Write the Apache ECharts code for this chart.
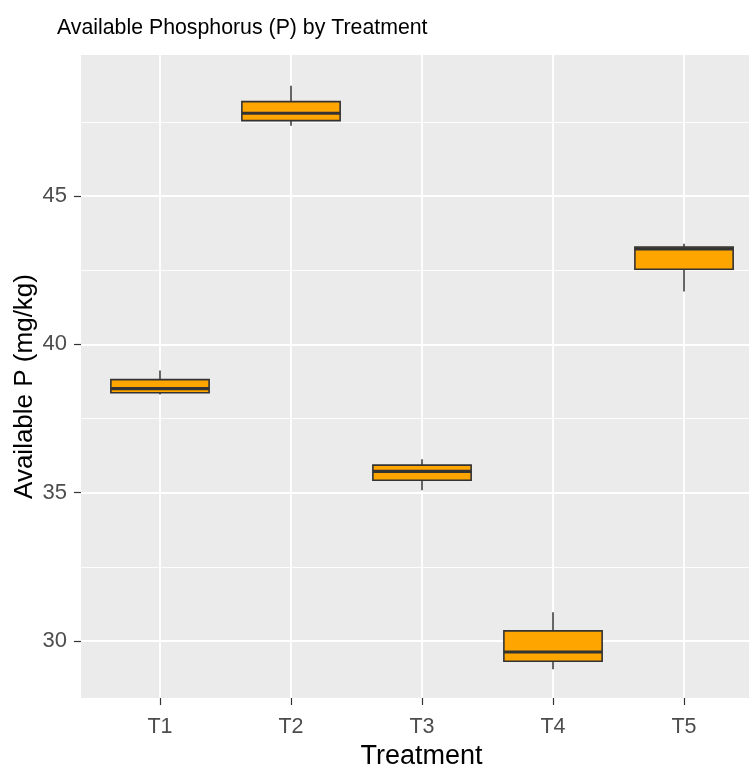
<!DOCTYPE html>
<html>
<head>
<meta charset="utf-8">
<script src="https://cdn.jsdelivr.net/npm/echarts@6/dist/echarts.min.js"></script>
<style>
html,body{margin:0;padding:0;background:#fff;}
#chart{width:749px;height:765px;}
</style>
</head>
<body>
<div id="chart"></div>
<script>
// ---- data ----
const categories = ['T1', 'T2', 'T3', 'T4', 'T5'];
const whiskerLow  = [38.31, 47.37, 35.08, 29.05, 41.78];
const q1          = [38.37, 47.54, 35.42, 29.32, 42.53];
const median      = [38.51, 47.79, 35.72, 29.63, 43.22];
const q3          = [38.81, 48.18, 35.93, 30.34, 43.28];
const whiskerHigh = [39.12, 48.72, 36.13, 30.97, 43.39];
const yMajorTicks = [30, 35, 40, 45];
const yMinorTicks = [32.5, 37.5, 42.5, 47.5];

const FONT = "'Liberation Sans', Arial, sans-serif";
const xPositions = categories.map((c, i) => i + 1);
const boxData = categories.map((c, i) => [xPositions[i], whiskerLow[i], q1[i], median[i], q3[i], whiskerHigh[i]]);

const chart = echarts.init(document.getElementById('chart'), null, {renderer: 'canvas'});

const option = {
  backgroundColor: '#ffffff',
  animation: false,
  title: {
    text: 'Available Phosphorus (P) by Treatment',
    left: 52,
    top: 13,
    textStyle: {fontFamily: FONT, fontSize: 21.3, fontWeight: 'normal', color: '#000000'}
  },
  grid: {
    left: 81, top: 55, right: 0, height: 643,
    outerBoundsMode: 'none',
    containLabel: false,
    show: true, backgroundColor: '#EBEBEB', borderWidth: 0
  },
  xAxis: {
    type: 'value',
    min: 0.397, max: 5.496,
    name: 'Treatment',
    nameLocation: 'middle',
    nameGap: 45,
    nameMoveOverlap: false,
    nameTextStyle: {fontFamily: FONT, fontSize: 27, color: '#000000', padding: [0, 0, 0, 13]},
    axisLine: {show: false},
    axisTick: {show: true, length: 7, lineStyle: {color: '#333333', width: 1.2}, customValues: xPositions},
    axisLabel: {
      customValues: xPositions,
      fontFamily: FONT, fontSize: 21.5, color: '#4D4D4D', margin: 18,
      formatter: v => categories[Math.round(v) - 1] || ''
    },
    splitLine: {show: true, lineStyle: {color: '#ffffff', width: 1.8}}
  },
  yAxis: [{
    type: 'value',
    min: 28.079, max: 49.753,
    name: 'Available P (mg/kg)',
    nameLocation: 'middle',
    nameGap: 43,
    nameMoveOverlap: false,
    nameTextStyle: {fontFamily: FONT, fontSize: 26, color: '#000000', padding: [0, 20, 0, 0]},
    axisLine: {show: false},
    axisTick: {show: true, length: 7, lineStyle: {color: '#333333', width: 1.2}, customValues: yMajorTicks},
    axisLabel: {customValues: yMajorTicks, fontFamily: FONT, fontSize: 22, color: '#4D4D4D', margin: 14},
    splitLine: {show: true, lineStyle: {color: '#ffffff', width: 1.8}}
  }, {
    type: 'value',
    min: 28.079, max: 49.753,
    position: 'left',
    axisLine: {show: false},
    axisTick: {show: false, customValues: yMinorTicks},
    axisLabel: {show: false, customValues: yMinorTicks},
    splitLine: {show: true, lineStyle: {color: '#ffffff', width: 0.9}}
  }],
  series: [{
    type: 'custom',
    xAxisIndex: 0,
    yAxisIndex: 0,
    data: boxData,
    dimensions: ['x', 'low', 'q1', 'median', 'q3', 'high'],
    encode: {x: 0, y: [1, 2, 3, 4, 5]},
    z: 10,
    renderItem: function (params, api) {
      const x = api.value(0);
      const pLo = api.coord([x, api.value(1)]);
      const pQ1 = api.coord([x, api.value(2)]);
      const pMed = api.coord([x, api.value(3)]);
      const pQ3 = api.coord([x, api.value(4)]);
      const pHi = api.coord([x, api.value(5)]);
      const w = api.size([0.75, 0])[0];
      const stroke = '#333333';
      return {
        type: 'group',
        children: [
          {type: 'line', shape: {x1: pHi[0], y1: pHi[1], x2: pQ3[0], y2: pQ3[1]}, style: {stroke: stroke, lineWidth: 1.5}},
          {type: 'line', shape: {x1: pQ1[0], y1: pQ1[1], x2: pLo[0], y2: pLo[1]}, style: {stroke: stroke, lineWidth: 1.5}},
          {type: 'rect', shape: {x: pQ3[0] - w / 2, y: pQ3[1], width: w, height: pQ1[1] - pQ3[1]},
            style: {fill: '#FFA500', stroke: stroke, lineWidth: 1.6}},
          {type: 'line', shape: {x1: pMed[0] - w / 2, y1: pMed[1], x2: pMed[0] + w / 2, y2: pMed[1]},
            style: {stroke: stroke, lineWidth: 3.2}}
        ]
      };
    }
  }]
};
chart.setOption(option);
</script>
</body>
</html>
